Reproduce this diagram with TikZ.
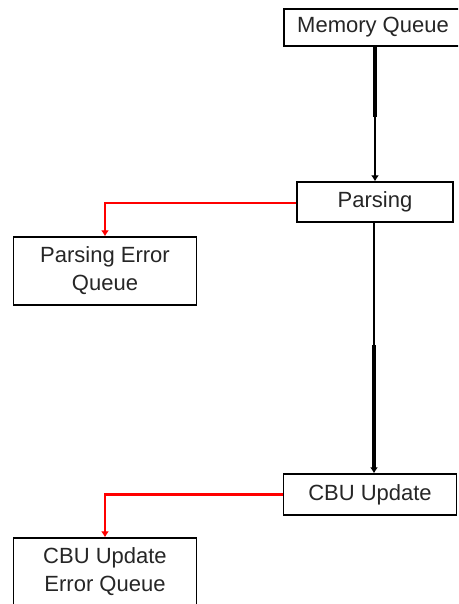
\documentclass[tikz,border=0pt]{standalone}
\usepackage{fontspec}
\setmainfont{Liberation Sans}
\usetikzlibrary{arrows.meta}
\begin{document}
\begin{tikzpicture}[x=1pt,y=-1pt,
  box/.style={draw=black, line width=1.3pt, fill=white, inner sep=0pt,
    align=center, text=black!85, font=\fontsize{22}{28}\selectfont},
  flow/.style={draw=black, line width=1.4pt},
  heavy/.style={draw=black, line width=3.6pt},
  errflow/.style={draw=red, line width=2.8pt},
  tip/.style={-{Latex[length=6pt,width=8pt]}}]
\useasboundingbox (0,0) rectangle (458,604);
\clip (0,0) rectangle (458,604);
\fill[white] (0,0) rectangle (458,604);

% processing stages
\node[box, minimum width=178pt, minimum height=37pt] (mq)  at (373,27.5) {Memory Queue};
\node[box, minimum width=156pt, minimum height=40pt] (prs) at (375,202) {Parsing};
\node[box, minimum width=173pt, minimum height=41pt] (cbu) at (370,494.5) {CBU Update};

% error queues
\node[box, minimum width=183pt, minimum height=68pt] (peq) at (105,271) {Parsing Error\\Queue};
\node[box, minimum width=183pt, minimum height=68pt] (ceq) at (105,572) {CBU Update\\Error Queue};

% main flow
\coordinate (m1) at (375,117);
\coordinate (m2) at (374,345);
\draw[heavy] (mq.south -| m1) -- (m1);
\draw[flow, tip] (m1) -- (prs.north -| m1);
\draw[flow] (prs.south -| m2) -- (m2);
\draw[heavy, tip] (m2) -- (cbu.north -| m2);

% error paths
\draw[errflow, tip] ([yshift=-1pt]prs.west) -| (peq.north);
\draw[errflow, tip] (cbu.west) -| (ceq.north);
\end{tikzpicture}
\end{document}
